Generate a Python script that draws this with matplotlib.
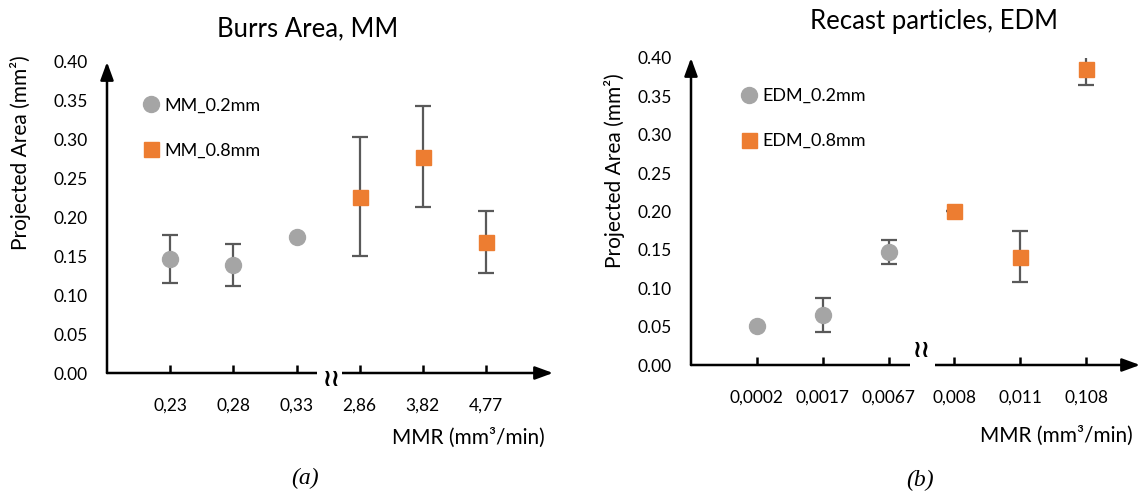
import matplotlib
matplotlib.use("Agg")
import matplotlib.pyplot as plt
import numpy as np

plt.rcParams['font.family'] = ['Lato', 'DejaVu Sans']

# ---- data ----
mm_ticks = ['0,23', '0,28', '0,33', '2,86', '3,82', '4,77']
mm_02_pos = [1, 2, 3]
mm_02_val = [0.147, 0.139, 0.175]
mm_02_err = [0.031, 0.027, 0.0]
mm_08_pos = [4, 5, 6]
mm_08_val = [0.227, 0.278, 0.169]
mm_08_err = [0.077, 0.065, 0.040]

edm_ticks = ['0,0002', '0,0017', '0,0067', '0,008', '0,011', '0,108']
edm_02_pos = [1, 2, 3]
edm_02_val = [0.051, 0.065, 0.147]
edm_02_err = [0.0, 0.0225, 0.016]
edm_08_pos = [4, 5, 6]
edm_08_val = [0.201, 0.141, 0.386]
edm_08_err = [0.0, 0.0335, 0.021]

yticks = [0.0, 0.05, 0.10, 0.15, 0.20, 0.25, 0.30, 0.35, 0.40]

GREY = '#A5A5A5'
ORANGE = '#ED7D31'
ERRC = '#595959'

W, H = 1140, 495
fig = plt.figure(figsize=(W / 100, H / 100), dpi=100)


def px_axes(x0, x1, ybot, ytop):
    return fig.add_axes([x0 / W, (H - ybot) / H, (x1 - x0) / W, (ybot - ytop) / H])


def panel(ax, xmax, ticks, p1, v1, e1, p2, v2, e2, lab1, lab2, gap, leg_xy):
    ax.set_xlim(0, xmax)
    ax.set_ylim(0, 0.40)
    for s in ax.spines.values():
        s.set_visible(False)
    ax.set_xticks(range(1, len(ticks) + 1))
    ax.set_xticklabels(ticks)
    ax.set_yticks(yticks)
    ax.set_yticklabels(['%.2f' % t for t in yticks])
    ax.tick_params(axis='x', direction='in', length=6, width=1.8, color='black',
                   pad=18, labelsize=12.5)
    ax.tick_params(axis='y', length=0, pad=14, labelsize=12.5)

    # axes with arrow heads
    arr = dict(arrowstyle='-|>,head_length=0.6,head_width=0.22', color='black',
               lw=1.8, mutation_scale=18, shrinkA=0, shrinkB=0)
    ax.annotate('', xy=(1, 0), xytext=(0, 0), xycoords='axes fraction',
                arrowprops=arr, annotation_clip=False, zorder=3)
    ax.annotate('', xy=(0, 1.0), xytext=(0, 0), xycoords='axes fraction',
                arrowprops=arr, annotation_clip=False, zorder=3)
    # axis break
    ax.plot(gap, [0, 0], color='white', lw=4, solid_capstyle='butt',
            clip_on=False, zorder=4)

    ax.errorbar(p1, v1, yerr=e1, fmt='none', ecolor=ERRC, elinewidth=1.6,
                capsize=6, capthick=1.6, zorder=5)
    ax.errorbar(p2, v2, yerr=e2, fmt='none', ecolor=ERRC, elinewidth=1.6,
                capsize=6, capthick=1.6, zorder=5)
    ax.plot(p1, v1, 'o', color=GREY, ms=11.5, mec=GREY, ls='none', label=lab1, zorder=6)
    ax.plot(p2, v2, 's', color=ORANGE, ms=10.8, mec=ORANGE, ls='none', label=lab2, zorder=6)

    ax.legend(loc='upper left', bbox_to_anchor=leg_xy, frameon=False,
              fontsize=13, handlelength=1.0, handletextpad=0.25,
              labelspacing=1.6, borderpad=0, borderaxespad=0, markerscale=1.0)


# left panel: Burrs Area, MM
ax1 = px_axes(107, 553, 373, 62)
panel(ax1, 7.06, mm_ticks, mm_02_pos, mm_02_val, mm_02_err,
      mm_08_pos, mm_08_val, mm_08_err, 'MM_0.2mm', 'MM_0.8mm',
      [3.32, 3.72], (0.078, 0.885))
ax1.text(3.56, -0.008, '\u2240\u2240', family='DejaVu Sans', fontsize=17,
         fontweight='bold', ha='center', va='center', zorder=6)
ax1.set_ylabel('Projected Area (mm²)', fontsize=15)
ax1.yaxis.set_label_coords(-0.170, 0.71)
ax1.text(0.982, -0.209, 'MMR (mm³/min)', transform=ax1.transAxes,
         ha='right', va='center', fontsize=15)

# right panel: Recast particles, EDM
ax2 = px_axes(691, 1140, 365, 58)
panel(ax2, 6.82, edm_ticks, edm_02_pos, edm_02_val, edm_02_err,
      edm_08_pos, edm_08_val, edm_08_err, 'EDM_0.2mm', 'EDM_0.8mm',
      [3.32, 3.70], (0.108, 0.902))
ax2.text(3.5, 0.019, '\u2240\u2240', family='DejaVu Sans', fontsize=17,
         fontweight='bold', ha='center', va='center', zorder=6)
ax2.set_ylabel('Projected Area (mm²)', fontsize=15)
ax2.yaxis.set_label_coords(-0.147, 0.634)
ax2.text(0.984, -0.231, 'MMR (mm³/min)', transform=ax2.transAxes,
         ha='right', va='center', fontsize=15)

fig.text(308 / W, 1 - 29 / H, 'Burrs Area, MM', ha='center', va='center', fontsize=18.5)
fig.text(934 / W, 1 - 22 / H, 'Recast particles, EDM', ha='center', va='center', fontsize=18.5)
fig.text(305 / W, 1 - 478 / H, '(a)', ha='center', va='center', fontsize=17,
         family='Liberation Serif', style='italic')
fig.text(920 / W, 1 - 480 / H, '(b)', ha='center', va='center', fontsize=17,
         family='Liberation Serif', style='italic')

fig.savefig('out.png', dpi=100)
